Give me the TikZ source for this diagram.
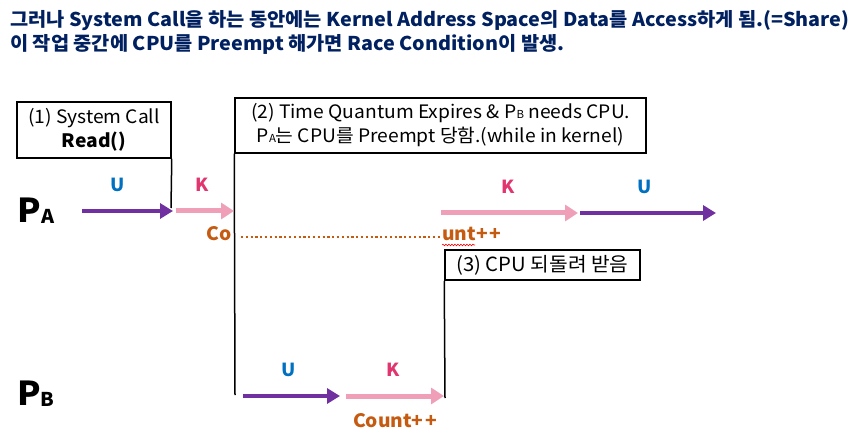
\documentclass[tikz,border=0pt]{standalone}
\usepackage{fontspec}
\setmainfont{Noto Sans CJK KR}[FakeStretch=1.04]
\usetikzlibrary{
  positioning, arrows.meta,
  decorations.pathmorphing
}
\definecolor{titleblue}{HTML}{002060}
\definecolor{userpurple}{HTML}{7030A0}
\definecolor{kernpink}{HTML}{EFA0B8}
\definecolor{ublue}{HTML}{0070C0}
\definecolor{kred}{HTML}{E0356E}
\definecolor{cntorange}{HTML}{C55A11}
\tikzset{
  txt/.style={font=\fontsize{18.5}{24}\selectfont},
  note/.style={draw,line width=1.5pt,txt,align=center,inner sep=0pt},
  tline/.style={line width=1.5pt},
  uarr/.style={userpurple,line width=4.5pt,-{Triangle[length=13pt,width=15pt]}},
  karr/.style={kernpink,line width=5pt,-{Triangle[length=13pt,width=16pt]}},
  ulab/.style={ublue,font=\fontsize{18}{18}\selectfont\bfseries},
  klab/.style={kred,font=\fontsize{18}{18}\selectfont\bfseries},
  cnt/.style={cntorange,font=\fontsize{18.5}{18}\selectfont\bfseries,inner sep=0pt},
  proc/.style={font=\fontsize{33}{33}\selectfont\bfseries,inner sep=0pt}
}
\newcommand{\procname}[1]{P\raisebox{-1pt}{\fontsize{19}{19}\selectfont #1}}
\newcommand{\smallsub}[1]{{\fontsize{11}{11}\selectfont #1}}
\begin{document}
\begin{tikzpicture}[x=1pt,y=-1pt]
  \useasboundingbox (0,0) rectangle (848,438);
  % title
  \node[anchor=north west,align=left,inner sep=0pt,titleblue,
        font=\fontsize{19}{24}\selectfont\bfseries] (title) at (10,10)
    {그러나 System Call을 하는 동안에는 Kernel Address Space의 Data를 Access하게 됨.(=Share)\\
     이 작업 중간에 CPU를 Preempt 해가면 Race Condition이 발생.};
  % timelines
  \coordinate (sysend) at (171,208);
  \coordinate (qend) at (235,395);
  \coordinate (cpuend) at (445,398);
  \node[note,minimum width=154pt,minimum height=56pt] (sysbox) at (94,130)
    {(1) System Call\\ \textbf{Read()}};
  \node[note,minimum width=411pt,minimum height=55pt] (qbox) at (440.5,125.5)
    {(2) Time Quantum Expires \& P\smallsub{B} needs CPU.\\
     P\smallsub{A}는 CPU를 Preempt 당함.(while in kernel)};
  \node[note,minimum width=195pt,minimum height=30pt,font=\fontsize{19.5}{24}\selectfont] (cpubox) at (542.5,265)
    {(3) CPU 되돌려 받음};
  \draw[tline] (sysbox.south east) -- (sysend);
  \draw[tline] (qbox.south west) -- (qend);
  \draw[tline] (cpubox.south west) -- (cpuend);
  % processes
  \node[proc] (pa) at (36,211) {\procname{A}};
  \node[proc] (pb) at (36,394) {\procname{B}};
  % P_A arrows
  \coordinate (a0) at (82,211);
  \coordinate (a1) at (173,211);
  \coordinate (a2) at (176,211);
  \coordinate (a3) at (234,211);
  \coordinate (a4) at (441,213);
  \coordinate (a5) at (578,213);
  \coordinate (a6) at (580,213);
  \coordinate (a7) at (716,213);
  \draw[uarr] (a0) -- (a1);
  \draw[karr] (a2) -- (a3);
  \draw[karr] (a4) -- (a5);
  \draw[uarr] (a6) -- (a7);
  \node[ulab] (ua) at (118,185) {U};
  \node[klab] (ka) at (202,185) {K};
  \node[klab] (kc) at (508,187) {K};
  \node[ulab] (uc) at (645,187) {U};
  % shared counter
  \node[cnt,anchor=east] (co) at (232,234) {Co};
  \node[cnt,anchor=west] (unt) at (442,234) {unt+\kern1.5pt+};
  \draw[cntorange,line width=2.5pt,dash pattern=on 2.2pt off 2.6pt] ([xshift=9pt,yshift=-3pt]co.east) -- ([yshift=-3pt]unt.west);
  \draw[red,line width=0.6pt,decorate,decoration={snake,segment length=3pt,amplitude=0.8pt}]
    ([yshift=-4pt]unt.south west) -- ++(33,0);
  % P_B arrows
  \coordinate (b0) at (243,396);
  \coordinate (b1) at (340,396);
  \coordinate (b2) at (346,396);
  \coordinate (b3) at (444,396);
  \draw[uarr] (b0) -- (b1);
  \draw[karr] (b2) -- (b3);
  \node[ulab] (ub) at (289,370) {U};
  \node[klab] (kb) at (393,370) {K};
  \node[cnt] (count) at (395,421) {Count+\kern1.5pt+};
\end{tikzpicture}
\end{document}
